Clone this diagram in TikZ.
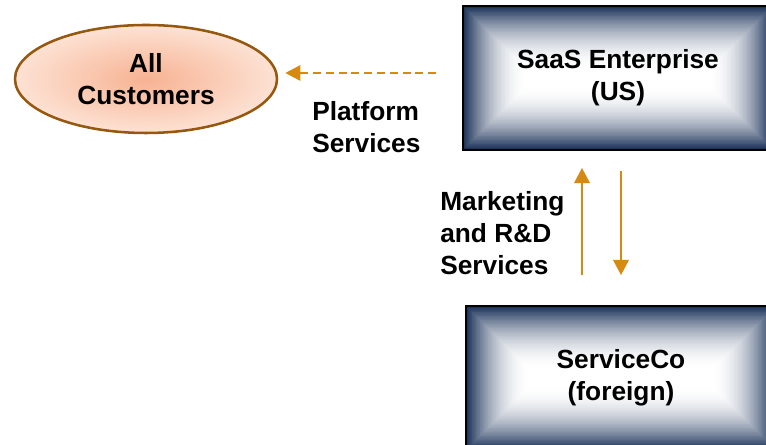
\documentclass[tikz,border=0pt]{standalone}
\usepackage{fontspec}
\setmainfont{Liberation Sans}
\usepackage{xcolor}
\usepackage{tikz}
\usetikzlibrary{calc}
\usetikzlibrary{arrows.meta}
\usetikzlibrary{shapes.geometric}
\definecolor{boxnavy}{RGB}{22,46,86}
\definecolor{peach}{RGB}{247,178,146}
\definecolor{peachlight}{RGB}{253,226,212}
\definecolor{brownline}{RGB}{150,88,14}
\definecolor{gold}{RGB}{214,138,18}

\begin{document}
\begin{tikzpicture}
\tikzstyle{txt}=[font=\bfseries\fontsize{18.7}{22.7}\selectfont]
\tikzstyle{cust}=[txt,draw=brownline,line width=1.8pt,shape=ellipse,minimum width=6.55cm,minimum height=2.7cm,align=center,inner color=peach,outer color=peachlight]
\tikzstyle{corp}=[txt,draw=black,line width=1.2pt,minimum width=7.75cm,minimum height=3.6cm,align=center,
  path picture={
    \foreach \i in {0,...,89}{
      \pgfmathsetmacro{\mix}{100*(1-(1-min(\i/80,1))^2)}
      \fill[white!\mix!boxnavy] ($(path picture bounding box.south west)+(\i*0.02,\i*0.02)$) rectangle ($(path picture bounding box.north east)-(\i*0.02,\i*0.02)$);
    }}]
\tikzstyle{flow}=[draw=gold,line width=2pt,-{Triangle[length=0.38cm,width=0.38cm]}]
%
\useasboundingbox (0,0) rectangle (19.15,11.125);
\clip (0,0) rectangle (19.15,11.125);
%
\node[cust](all) at (3.65,9.15){All\\Customers};
\node[corp](saas) at (15.45,9.175){SaaS Enterprise\\(US)};
\node[corp](svc) at (15.525,1.675){ServiceCo\\(foreign)};
%
\node[txt,anchor=west,align=left,inner sep=0](plat) at (7.8,7.94){Platform\\Services};
\node[txt,anchor=west,align=left,inner sep=0](mkt) at (11.0,5.3){Marketing\\and R\&D\\Services};
%
\draw[flow,dash pattern=on 0.2cm off 0.12cm,shorten <=0.65cm,shorten >=0.175cm] ([yshift=0.125cm]saas.west) -- ([yshift=0.125cm]saas.west -| all.east);
%
\draw[flow,shorten <=0.75cm,shorten >=0.425cm] ([xshift=-0.975cm]svc.north) -- ([xshift=-0.975cm]svc.north |- saas.south);
\draw[flow,shorten <=0.5cm,shorten >=0.75cm] (saas.south -| svc.north) -- (svc.north);
\end{tikzpicture}
\end{document}
